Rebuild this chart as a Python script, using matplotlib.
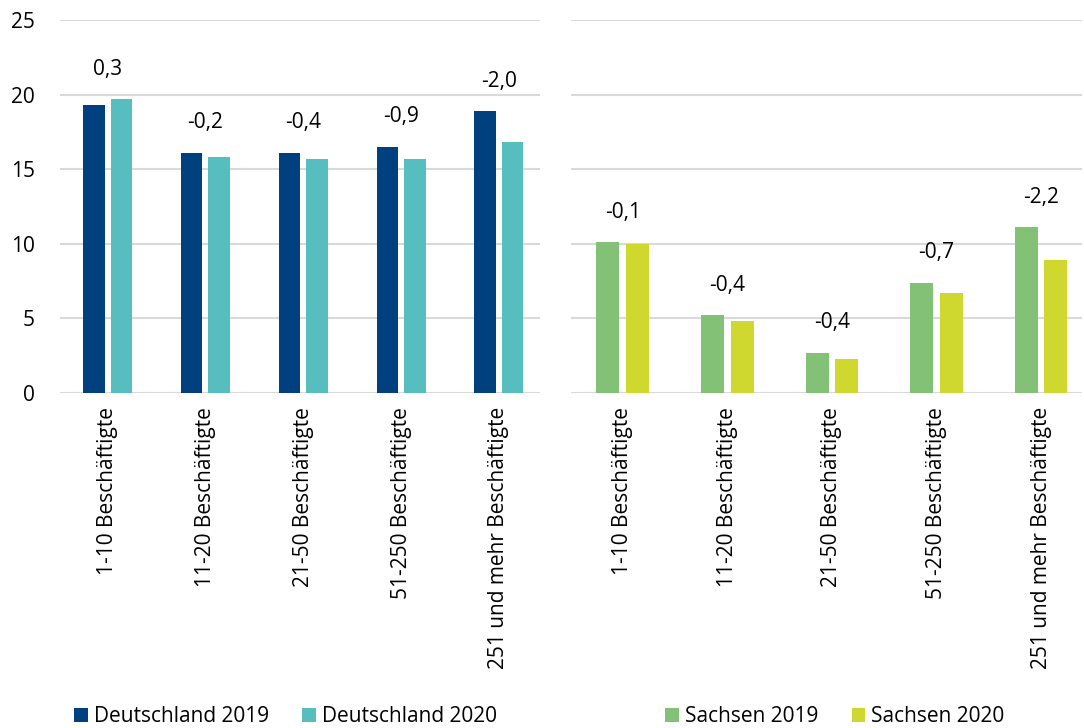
import matplotlib
matplotlib.use("Agg")
import matplotlib.pyplot as plt
import numpy as np

plt.rcParams['font.family'] = ['Open Sans', 'DejaVu Sans']

categories = ["1-10 Beschäftigte", "11-20 Beschäftigte", "21-50 Beschäftigte",
              "51-250 Beschäftigte", "251 und mehr Beschäftigte"]

de_2019 = [19.3, 16.1, 16.1, 16.5, 18.9]
de_2020 = [19.7, 15.8, 15.7, 15.7, 16.8]
de_diff = [0.3, -0.2, -0.4, -0.9, -2.0]

sn_2019 = [10.1, 5.2, 2.7, 7.4, 11.1]
sn_2020 = [10.0, 4.8, 2.3, 6.7, 8.9]
sn_diff = [-0.1, -0.4, -0.4, -0.7, -2.2]

yticks = [0, 5, 10, 15, 20, 25]

c_de19 = "#00407f"
c_de20 = "#57bec0"
c_sn19 = "#83c276"
c_sn20 = "#cfd82f"

W, H = 1084, 728
fig = plt.figure(figsize=(W / 100, H / 100), dpi=100)

ax_l = fig.add_axes([60 / W, 1 - 393 / H, 480 / W, 373 / H])
ax_r = fig.add_axes([571 / W, 1 - 393 / H, 511 / W, 373 / H])

FS = 15


def draw(ax, v19, v20, diffs, c19, c20, lab19, lab20, xlim, show_y):
    x = np.arange(len(categories))
    bw = 0.22
    gap = 0.062
    b1 = ax.bar(x - (bw + gap) / 2, v19, width=bw, color=c19, label=lab19, zorder=3)
    b2 = ax.bar(x + (bw + gap) / 2, v20, width=bw, color=c20, label=lab20, zorder=3)
    for xi, a, b, d in zip(x, v19, v20, diffs):
        txt = f"{d:.1f}".replace(".", ",")
        ax.annotate(txt, (xi, max(a, b)), xytext=(0, 21.5), textcoords="offset points",
                    ha="center", va="center", fontsize=FS, color="black")
    ax.set_ylim(0, 25)
    ax.set_yticks(yticks)
    ax.yaxis.grid(True, color="#d9d9d9", linewidth=1.5, zorder=0)
    ax.set_axisbelow(True)
    for s in ax.spines.values():
        s.set_visible(False)
    ax.set_xlim(*xlim)
    ax.set_xticks(x)
    ax.set_xticklabels(categories, rotation=90, fontsize=FS, va="top", ha="center")
    ax.tick_params(axis="x", length=0, pad=10)
    ax.tick_params(axis="y", length=0, pad=18, labelsize=FS)
    if not show_y:
        ax.set_yticklabels([])
    return b1, b2


h_l = draw(ax_l, de_2019, de_2020, de_diff, c_de19, c_de20,
           "Deutschland 2019", "Deutschland 2020", (-0.486, 4.42), True)
h_r = draw(ax_r, sn_2019, sn_2020, sn_diff, c_sn19, c_sn20,
           "Sachsen 2019", "Sachsen 2020", (-0.494, 4.39), False)

leg_kw = dict(ncol=2, frameon=False, fontsize=FS, handlelength=0.65, handleheight=0.65,
              handletextpad=0.3, borderpad=0, borderaxespad=0, columnspacing=1.6,
              loc="center left")
fig.legend(h_l, [h.get_label() for h in h_l], bbox_to_anchor=(74 / W, 1 - 717 / H), **leg_kw)
fig.legend(h_r, [h.get_label() for h in h_r], bbox_to_anchor=(665 / W, 1 - 717 / H), **leg_kw)

fig.savefig("out.png", dpi=100)
